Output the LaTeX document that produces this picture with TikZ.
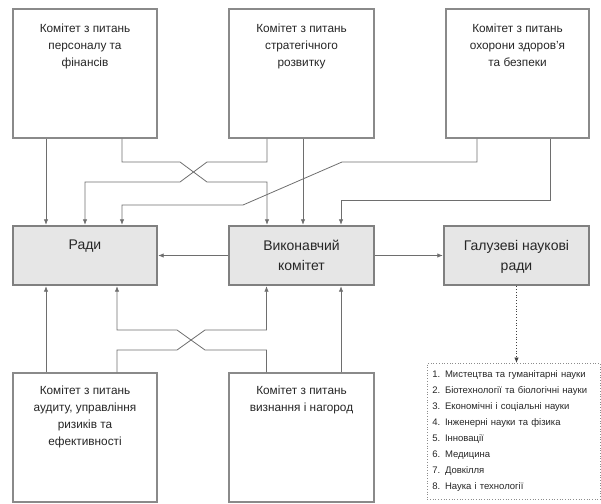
\documentclass[tikz,border=0pt]{standalone}
\usepackage{fontspec}
\setmainfont{Liberation Sans}
\usetikzlibrary{arrows.meta,calc}
\definecolor{lnc}{HTML}{6E6E6E}
\definecolor{boxc}{HTML}{8A8A8A}
\definecolor{gboxc}{HTML}{808080}
\definecolor{gfill}{HTML}{E6E6E6}
\begin{document}
\begin{tikzpicture}[x=1pt,y=-1pt,
  wbox/.style={draw=boxc, line width=1.1pt, fill=white, minimum width=#1, minimum height=129, inner sep=0},
  gbox/.style={draw=gboxc, line width=2.4pt, fill=gfill, minimum width=#1, minimum height=59, inner sep=0},
  tlab/.style={anchor=north, align=center, inner sep=0, font=\fontsize{11.8}{17}\selectfont, text=black!85},
  mlab/.style={anchor=north, align=center, inner sep=0, font=\fontsize{14}{20}\selectfont, text=black!85},
  conn/.style={draw=lnc, line width=0.8pt, -{Latex[length=5.5pt,width=4.5pt]}},
  dconn/.style={draw=black!75, line width=0.8pt, dotted, -{Latex[length=5.5pt,width=4.5pt]}}
]
\useasboundingbox (0,0) rectangle (601,503);
% top boxes
\node[wbox=144] (b1) at (85,73.5) {};
\node[wbox=145] (b2) at (301.5,73.5) {};
\node[wbox=143] (b3) at (517.5,73.5) {};
\node[tlab] (t1) at ([yshift=-15]b1.north) {Комітет з питань\\персоналу та\\фінансів};
\node[tlab] (t2) at ([yshift=-15]b2.north) {Комітет з питань\\стратегічного\\розвитку};
\node[tlab] (t3) at ([yshift=-15]b3.north) {Комітет з питань\\охорони здоров’я\\та безпеки};
% middle boxes
\node[gbox=144] (rady) at (85,255.5) {};
\node[gbox=145] (vyk) at (301.5,255.5) {};
\node[gbox=145] (gal) at (516.5,255.5) {};
\node[mlab] (mr) at ([yshift=-15]rady.north) {Ради};
\node[mlab] (mv) at ([yshift=-15]vyk.north) {Виконавчий\\комітет};
\node[mlab] (mg) at ([yshift=-15]gal.north) {Галузеві наукові\\ради};
% bottom boxes
\node[wbox=144] (b4) at (85,437.5) {};
\node[wbox=145] (b5) at (301.5,437.5) {};
\node[tlab] (t4) at ([yshift=-13]b4.north) {Комітет з питань\\аудиту, управління\\ризиків та\\ефективності};
\node[tlab] (t5) at ([yshift=-13]b5.north) {Комітет з питань\\визнання і нагород};
% list
\node[draw=black!45, dotted, line width=0.7pt, anchor=north west, minimum width=173, minimum height=136,
      text width=163, align=left, inner xsep=5, inner ysep=3,
      font=\fontsize{9.5}{16}\selectfont, text=black!85] (list) at (427,363)
 {1. Мистецтва та гуманітарні науки\\
  2. Біотехнології та біологічні науки\\
  3. Економічні і соціальні науки\\
  4. Інженерні науки та фізика\\
  5. Інновації\\
  6. Медицина\\
  7. Довкілля\\
  8. Наука і технології};
% top connectors
\draw[conn] ([xshift=-39]b1.south) -- ([xshift=-39]rady.north);
\draw[conn] ([xshift=37]b1.south) |- (180,162) -- (207,182) -| ([xshift=-34.5]vyk.north);
\draw[conn] ([xshift=-34.5]b2.south) |- (207,162) -- (180,182) -| (rady.north);
\draw[conn] ([xshift=1.5]b2.south) -- ([xshift=1.5]vyk.north);
\draw[conn] ([xshift=-40.5]b3.south) |- (342,162) -- (243,205) -| ([xshift=37]rady.north);
\draw[conn] ([xshift=32.5]b3.south) |- (341,200) -- ([xshift=39.5]vyk.north);
% middle connectors
\draw[conn] (vyk.west) -- (rady.east);
\draw[conn] (vyk.east) -- (gal.west);
\draw[dconn] (gal.south) -- (gal.south |- list.north);
% bottom connectors
\draw[conn] ([xshift=-39]b4.north) -- ([xshift=-39]rady.south);
\draw[conn] ([xshift=32]b4.north) |- (177,350) -- (205,330) -| ([xshift=-35]vyk.south);
\draw[conn] ([xshift=-35]b5.north) |- (205,350) -- (177,330) -| ([xshift=32]rady.south);
\draw[conn] ([xshift=39.5]b5.north) -- ([xshift=39.5]vyk.south);
\end{tikzpicture}
\end{document}
